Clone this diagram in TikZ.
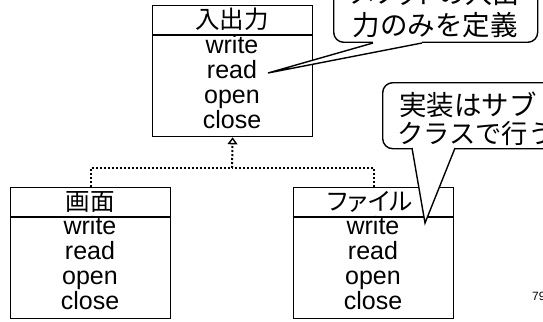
\documentclass[tikz,border=0pt]{standalone}
\usepackage{fontspec}
\setmainfont{Liberation Sans}
\newfontfamily\jp[RawFeature=+palt]{Noto Sans CJK JP}
\newfontfamily\jpfull{Noto Sans CJK JP}
\usetikzlibrary{arrows.meta}
\begin{document}
\begin{tikzpicture}[x=1pt,y=-1pt,
  box/.style={draw, line width=1.3pt, minimum width=160pt, minimum height=131pt, anchor=north west, inner sep=0pt},
  sepline/.style={line width=2.2pt},
  meth/.style={font=\fontsize{25}{25}\selectfont, anchor=base, inner sep=0pt},
  head/.style={font=\jp\fontsize{24.5}{24.5}\selectfont, inner sep=0pt},
  dotline/.style={line width=2pt, dash pattern=on 2pt off 2pt},
  callout/.style={draw, fill=white, line width=1.4pt, rounded corners=10pt, inner sep=0pt},
  wedge/.style={line width=1.4pt, line join=miter},
  ctext/.style={font=\jp\fontsize{27}{27}\selectfont, inner sep=0pt},
  ctextfull/.style={font=\jpfull\fontsize{27.5}{27.5}\selectfont, inner sep=0pt},
]
\useasboundingbox (0,0) rectangle (543,321);
\clip (0,0) rectangle (543,321);

% interface box
\node[box] (io) at (152,5) {};
\draw[sepline] ([yshift=-30pt]io.north west) -- ([yshift=-30pt]io.north east);
\node[head] (ioh) at (232,19) {入出力};
\node[meth] (iow) at (232,53) {write};
\node[meth] (ior) at (232,78) {read};
\node[meth] (ioo) at (232,103) {open};
\node[meth] (ioc) at (232,128) {close};

% screen box
\node[box] (scr) at (10,187) {};
\draw[sepline] ([yshift=-30pt]scr.north west) -- ([yshift=-30pt]scr.north east);
\node[head] (scrh) at (90,202) {画面};
\node[meth] (scrw) at (90,234) {write};
\node[meth] (scrr) at (90,259) {read};
\node[meth] (scro) at (90,284) {open};
\node[meth] (scrc) at (90,309) {close};

% file box
\node[box] (file) at (293,187) {};
\draw[sepline] ([yshift=-30pt]file.north west) -- ([yshift=-30pt]file.north east);
\node[head] (fileh) at (370,202) {ファイル};
\node[meth] (filew) at (373,234) {write};
\node[meth] (filer) at (373,259) {read};
\node[meth] (fileo) at (373,284) {open};
\node[meth] (filec) at (373,309) {close};

% realization connectors
\coordinate (j) at (232,168);
\draw[dotline] (scr.north) |- (j);
\draw[dotline] (file.north) |- (j);
\draw[dotline, -{Triangle[open, width=10pt, length=7pt, line width=1.4pt]}] (j) -- (io.south);

% callout 1
\node[callout, anchor=south west, minimum width=204pt, minimum height=90pt] (c1) at (333,43) {};
\coordinate (t1) at (268,73);
\fill[white] (373,43) -- (t1) -- (422,43) -- (422,40.5) -- (373,40.5) -- cycle;
\draw[wedge] (373,43) -- (t1) -- (422,43);
\node[ctext] (c1a) at (435,-7) {メソッドの入出};
\node[ctextfull] (c1b) at (435,25) {力のみを定義};

% callout 2
\node[callout, anchor=north west, minimum width=200pt, minimum height=66pt] (c2) at (382,82) {};
\coordinate (t2) at (425,223);
\fill[white] (412,148) -- (t2) -- (455,148) -- (455,145.5) -- (412,145.5) -- cycle;
\draw[wedge] (412,148) -- (t2) -- (455,148);
\node[ctextfull, anchor=west] (c2a) at (399,105) {実装はサブ};
\node[ctextfull, anchor=west, font=\jpfull\fontsize{26.3}{26.3}\selectfont] (c2b) at (397,134) {クラスで行う};

% page number
\node[font=\fontsize{12}{12}\selectfont, anchor=base west, inner sep=0pt] (pg) at (532,300) {79};
\end{tikzpicture}
\end{document}
